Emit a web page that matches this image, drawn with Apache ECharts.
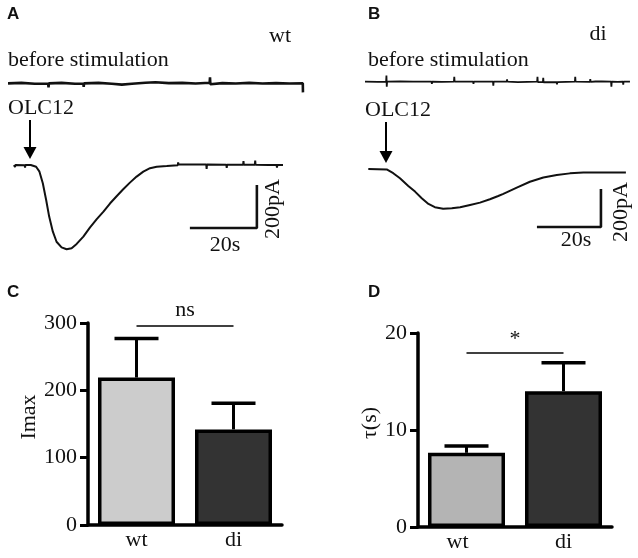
<!DOCTYPE html>
<html>
<head>
<meta charset="utf-8">
<style>
html, body { margin: 0; padding: 0; background: #fff; }
#chart { width: 638px; height: 558px; }
</style>
<script src="https://cdn.jsdelivr.net/npm/echarts@6/dist/echarts.min.js"></script>
</head>
<body>
<div id="chart"></div>
<script>
// recordings: [time (s), current (pA)]
const restA = [[0,0],[0.2,7],[0.4,-3],[4,2],[8,-2],[12,-2],[12.1,-19],[12.2,0],[16,2],[20,-2],[22.5,-2],[22.6,-16],[22.7,0],
  [27,2],[31,-2],[34,-6],[37,-2],[41,3],[44,5],[48,1],[52,2],[56,-1],[60.2,3],[60.3,28],[60.4,-4],[64,1],[68,-1],
  [72,2],[76,-1],[80,1],[84,-1],[88,0],[88.05,-42]]
const traceA = [[0,0],[0.3,-10],[0.4,0],[3.2,-1],[3.3,-12],[3.4,0],[5,0],[6.6,-8],[7.6,-31],[8.6,-85],[9.6,-163],
  [10.5,-240],[11.6,-310],[12.7,-357],[14.2,-383],[15.7,-392],[17.2,-387],[18.7,-367],[20.7,-333],[22.7,-290],
  [24.7,-252],[26.7,-217],[28.7,-178],[30.7,-144],[32.6,-113],[34.6,-82],[36.6,-54],[38.6,-31],[40.6,-15],
  [42.6,-8],[45.6,-5],[48.9,-1],[49,12],[49.1,2],[53,2],[57.4,2],[57.5,-18],[57.6,2],[63.4,1],[63.5,-14],[63.6,1],
  [68.4,1],[68.5,18],[68.6,1],[71.9,1],[72,20],[72.1,1],[76,0],[78.4,0],[78.5,-12],[78.6,0],[80.3,0]]
const restB = [[0,0],[4,-1],[6.6,0],[6.7,32],[6.8,-26],[6.9,0],[11,1],[15,0],[15.1,-10],[15.2,0],[20.8,0],[20.9,-12],
  [21,0],[24,-1],[27.8,0],[27.9,26],[28,0],[33.8,0],[33.9,-12],[34,0],[40,0],[40.1,-21],[40.2,0],[44.3,0],[44.4,12],
  [44.5,0],[47.8,-2],[53.8,0],[53.9,26],[54,-2],[55.6,-2],[55.7,20],[55.8,-3],[59.9,-3],[60,-14],[60.1,-2],
  [65.6,0],[65.7,26],[65.8,0],[70.3,-1],[70.4,14],[70.5,-1],[72,1],[74,2],[76.9,0],[77,-26],[77.1,0],[79,-1],
  [80.6,0],[80.7,-16],[80.8,0],[82.8,0]]
const traceB = [[0,0],[5.75,-2],[7.8,-22],[9.9,-49],[12.5,-89],[14.6,-119],[16.7,-154],[18.8,-184],[20.8,-201],
  [23.4,-209],[26.1,-207],[28.7,-201],[31.8,-189],[34.9,-177],[38,-159],[40.6,-142],[42.2,-131],[46.4,-98],
  [50.5,-67],[54.7,-45],[58.9,-32],[63,-23],[67.2,-19],[71.4,-19],[75.5,-19],[80.5,-19]]

// scale bars
const barSec = 20
const barPA = 200

// summary bars
const groups = ['wt', 'di']
const imaxMean = [219, 142]
const imaxSem = [58, 39]
const tauMean = [7.65, 14.0]
const tauSem = [0.7, 2.93]
const imaxTicks = [0, 100, 200, 300]
const tauTicks = [0, 10, 20]

const serif = "'Liberation Serif', 'Times New Roman', serif"
const ink = '#111'

const chart = echarts.init(document.getElementById('chart'))

function scaleBar(corner) {
  // horizontal 20 s then up 200 pA
  return [[corner[0] - barSec, corner[1]], corner, [corner[0], corner[1] + barPA]]
}

function trace(idx, data, w) {
  return {
    type: 'line', xAxisIndex: idx, yAxisIndex: idx, data: data,
    symbol: 'none', silent: true,
    lineStyle: { color: ink, width: w }
  }
}

function hiddenX(idx, max) {
  return { type: 'value', gridIndex: idx, min: 0, max: max, show: false }
}
function hiddenY(idx, min, max) {
  return { type: 'value', gridIndex: idx, min: min, max: max, show: false }
}

function errItem(params, api) {
  const x = api.value(0), m = api.value(1), e = api.value(2)
  const p0 = api.coord([x, m])
  const p1 = api.coord([x, m + e])
  const hw = 22
  return {
    type: 'group',
    children: [
      { type: 'line', shape: { x1: p0[0], y1: p0[1], x2: p1[0], y2: p1[1] }, style: { stroke: '#000', lineWidth: 3 } },
      { type: 'line', shape: { x1: p1[0] - hw, y1: p1[1], x2: p1[0] + hw, y2: p1[1] }, style: { stroke: '#000', lineWidth: 3.5 } }
    ]
  }
}

function barX(idx, shiftFirst) {
  return {
    type: 'category', gridIndex: idx, data: groups,
    axisLine: { lineStyle: { color: '#000', width: 3.5 } },
    axisTick: { show: false },
    axisLabel: {
      fontFamily: serif, fontSize: 22, color: ink, margin: 4,
      formatter: (v, i) => (i === 0 && shiftFirst ? '{s|' + v + '}' : v),
      rich: { s: { fontFamily: serif, fontSize: 22, color: ink, padding: [0, shiftFirst || 0, 0, 0] } }
    }
  }
}
function barY(idx, ticks, name, gap) {
  return {
    type: 'value', gridIndex: idx,
    min: ticks[0], max: ticks[ticks.length - 1], interval: ticks[1] - ticks[0],
    axisLine: { show: true, lineStyle: { color: '#000', width: 3.5 } },
    axisTick: { show: true, length: 8, lineStyle: { color: '#000', width: 3 } },
    splitLine: { show: false },
    axisLabel: { fontFamily: serif, fontSize: 22, color: ink, margin: 11 },
    name: name, nameLocation: 'middle', nameGap: gap, nameRotate: 90,
    nameTextStyle: { fontFamily: serif, fontSize: 22, color: ink, padding: [0, 0, 0, 14] }
  }
}

function bars(idx, means, colors, sigY, sigText, sigDist) {
  return {
    type: 'bar', xAxisIndex: idx, yAxisIndex: idx, barWidth: 77,
    data: means.map((v, i) => ({ value: v, itemStyle: { color: colors[i] } })),
    itemStyle: { borderColor: '#000', borderWidth: 3.5 },
    markLine: {
      symbol: 'none', silent: true,
      lineStyle: { color: '#000', width: 1.5, type: 'solid' },
      label: { show: true, position: 'middle', formatter: sigText, fontFamily: serif, fontSize: 22, color: ink, distance: sigDist },
      data: [[{ coord: [0, sigY] }, { coord: [1, sigY] }]]
    }
  }
}

function errSeries(idx, means, sems) {
  return {
    type: 'custom', xAxisIndex: idx, yAxisIndex: idx, renderItem: errItem, z: 3,
    encode: { x: 0, y: 1 },
    data: means.map((v, i) => [i, v, sems[i]])
  }
}

function label(x, y, s, font, align, rot) {
  return {
    type: 'text', x: x, y: y, rotation: rot || 0,
    style: { text: s, font: font, fill: ink, textAlign: align || 'left', textVerticalAlign: 'middle' }
  }
}
function arrow(x, y0, y1) {
  return [
    { type: 'line', shape: { x1: x, y1: y0, x2: x, y2: y1 - 10 }, style: { stroke: '#000', lineWidth: 2 } },
    { type: 'polygon', shape: { points: [[x - 6.5, y1 - 12], [x + 6.5, y1 - 12], [x, y1]] }, style: { fill: '#000' } }
  ]
}

const txt = '22px ' + serif
const bold = "bold 17px 'Liberation Sans', Arial, sans-serif"

chart.setOption({
  animation: false,
  grid: [
    { left: 8, top: 75.8, width: 294.8, height: 18.3 },
    { left: 14, top: 160.7, width: 271.35, height: 90.3 },
    { left: 365, top: 75, width: 265.6, height: 12.4 },
    { left: 368.3, top: 165.2, width: 259.2, height: 64.6 },
    { left: 88, top: 323, width: 194, height: 202 },
    { left: 418, top: 333, width: 194, height: 194 }
  ],
  xAxis: [hiddenX(0, 88), hiddenX(1, 81), hiddenX(2, 83), hiddenX(3, 81), barX(4), barX(5, 18)],
  yAxis: [
    hiddenY(0, -50, 35), hiddenY(1, -400, 20), hiddenY(2, -30, 35), hiddenY(3, -320, 20),
    barY(4, imaxTicks, 'Imax', 48), barY(5, tauTicks, 'τ(s)', 30)
  ],
  series: [
    trace(0, restA, 2.6),
    trace(1, traceA, 2),
    trace(1, scaleBar([72.5, -293]), 2.6),
    trace(2, restB, 1.8),
    trace(3, traceB, 2),
    trace(3, scaleBar([72.7, -305]), 2.6),
    bars(4, imaxMean, ['#cccccc', '#333333'], 296, 'ns', 4),
    errSeries(4, imaxMean, imaxSem),
    bars(5, tauMean, ['#b4b4b4', '#333333'], 18, '*', 2),
    errSeries(5, tauMean, tauSem)
  ],
  graphic: [
    label(7, 14, 'A', bold),
    label(368, 14, 'B', bold),
    label(7, 292, 'C', bold),
    label(368, 292, 'D', bold),
    label(280, 36.5, 'wt', txt, 'center'),
    label(8, 60.5, 'before stimulation', txt),
    label(8, 108.5, 'OLC12', txt),
    label(225, 245.5, '20s', txt, 'center'),
    label(273, 209, '200pA', txt, 'center', Math.PI / 2),
    label(598, 34.5, 'di', txt, 'center'),
    label(368, 60.5, 'before stimulation', txt),
    label(365, 110.5, 'OLC12', txt),
    label(576, 240.5, '20s', txt, 'center'),
    label(621, 212, '200pA', txt, 'center', Math.PI / 2)
  ].concat(arrow(30, 120, 159), arrow(386, 122, 163))
})
</script>
</body>
</html>
